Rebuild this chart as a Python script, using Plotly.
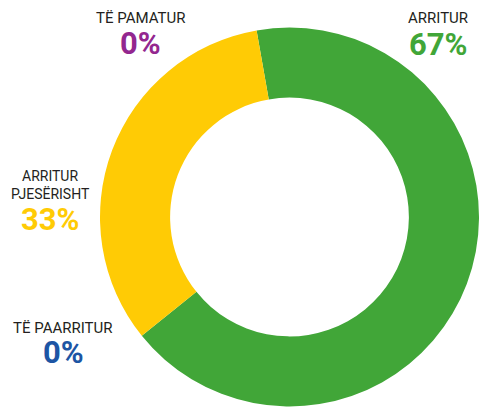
import plotly.graph_objects as go

W, H = 479, 407

categories = ["ARRITUR", "ARRITUR PJESËRISHT", "TË PAARRITUR", "TË PAMATUR"]
values = [67, 33, 0, 0]
colors = ["#41a638", "#ffcb05", "#1d55a4", "#93278f"]
pct_labels = ["67%", "33%", "0%", "0%"]
label_lines = [["ARRITUR"], ["ARRITUR", "PJESËRISHT"], ["TË PAARRITUR"], ["TË PAMATUR"]]

fig = go.Figure()
fig.add_trace(go.Pie(
    labels=categories,
    values=values,
    marker=dict(colors=colors, line=dict(width=0)),
    hole=0.63,
    sort=False,
    direction="clockwise",
    rotation=-10,
    textinfo="none",
    hoverinfo="label+percent",
    showlegend=False,
    domain=dict(x=[100 / W, 1], y=[0, 380 / H]),
))

# label placement (pixels): (center x, [cap-center y of each label line], pct cap-center y, label size)
positions = [
    (438, [18.5], 44.5, 15),
    (50, [176.5, 193.5], 219.5, 14),
    (63, [327.5], 352.5, 15),
    (140, [18.5], 43.5, 15),
]

LABEL_FONT = "Roboto, Liberation Sans, sans-serif"
for i, cat in enumerate(categories):
    cx, lys, py, lsize = positions[i]
    for line, ly in zip(label_lines[i], lys):
        fig.add_annotation(
            x=cx / W, y=1 - ly / H, xref="paper", yref="paper",
            text=line, showarrow=False,
            xanchor="center", yanchor="middle", align="center",
            font=dict(family=LABEL_FONT, size=lsize, color="#231f20"),
            borderpad=0,
        )
    fig.add_annotation(
        x=cx / W, y=1 - py / H, xref="paper", yref="paper",
        text="<b>" + pct_labels[i] + "</b>", showarrow=False,
        xanchor="center", yanchor="middle", align="center",
        font=dict(family=LABEL_FONT, size=31, color=colors[i]),
        borderpad=0,
    )

fig.update_layout(
    width=W, height=H,
    margin=dict(l=0, r=0, t=0, b=0),
    paper_bgcolor="white",
    plot_bgcolor="white",
)

fig.write_html(
    "out.html",
    config={"displayModeBar": False},
    post_script="document.body.style.margin='0';",
)
